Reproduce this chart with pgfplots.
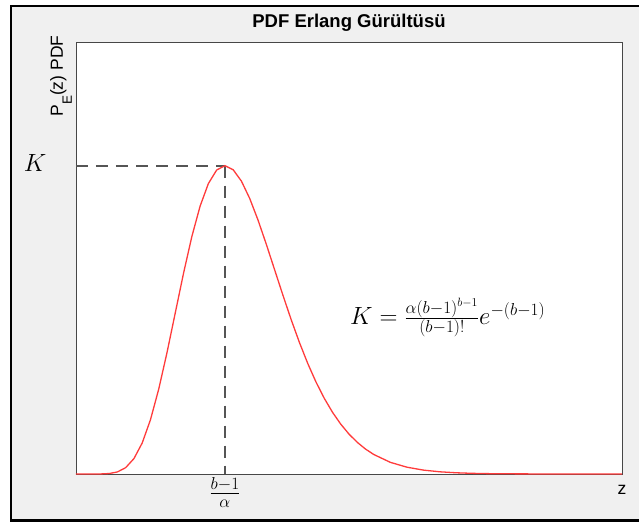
\documentclass[border=0pt]{standalone}
\usepackage{pgfplots}
\pgfplotsset{compat=1.18}
\usepackage{fontspec}
\setmainfont{Liberation Sans}
\definecolor{figbg}{HTML}{F0F0F0}
\definecolor{curvered}{HTML}{FF3B3B}
\definecolor{dashgray}{HTML}{555555}
\begin{document}
\begin{tikzpicture}[font=\fontsize{17.5}{20}\selectfont]
\path[use as bounding box] (-76pt,-48pt) rectangle (563pt,474pt);
\fill[white] (-76pt,-48pt) rectangle (563pt,474pt);
\fill[figbg] (-65pt,-46.5pt) rectangle (563pt,468pt);
\draw[black, line width=2.5pt] (563pt,468pt) -- (-65pt,468pt) -- (-65pt,-46.5pt) -- (563pt,-46.5pt);
\begin{axis}[
  at={(0pt,0pt)}, anchor=south west, scale only axis,
  width=546pt, height=432pt,
  xmin=0, xmax=33, ymin=0, ymax=1.401,
  axis background/.style={fill=white},
  axis line style={black!72, line width=0.9pt},
  xtick={9}, xticklabels={$\frac{b-1}{\alpha}$},
  ytick={1}, yticklabels={$K$},
  major tick length=0pt,
  xticklabel style={font=\fontsize{24}{28}\selectfont},
  yticklabel style={font=\fontsize{23}{28}\selectfont, xshift=-26pt, yshift=3pt},
  title={PDF Erlang Gürültüsü},
  title style={font=\fontsize{18.5}{22}\selectfont\bfseries, at={(rel axis cs:0.5,1)}, anchor=base, yshift=8.7pt},
  xlabel={z},
  xlabel style={at={(rel axis cs:1,0)}, anchor=north, yshift=-8pt},
  ylabel={P\raisebox{-9pt}{\fontsize{13.5}{14}\selectfont E}(z) PDF},
  ylabel style={at={(rel axis cs:0,0.921)}, anchor=south, inner sep=4pt},
  clip=false,
]
\addplot[dashgray, line width=1.8pt, dash pattern=on 12pt off 8pt] coordinates {(0,1) (9,1)};
\addplot[dashgray, line width=1.8pt, dash pattern=on 12pt off 8pt] coordinates {(9,1) (9,0)};
\addplot[curvered, line width=1.3pt] coordinates {
(0,0) (1,0.00001) (1.5,0.0002) (2,0.0015) (2.5,0.0066) (3,0.0205) (3.5,0.0498)
(4,0.1004) (4.5,0.1758) (5,0.2753) (5.5,0.3937) (6,0.5225) (6.5,0.6513)
(7,0.7697) (7.5,0.8686) (8,0.9418) (8.5,0.9857) (9,1) (9.5,0.9867)
(10,0.9496) (10.5,0.8935) (11,0.8237) (11.5,0.7454) (12,0.6631) (12.5,0.5808)
(13,0.5013) (13.5,0.4271) (14,0.3593) (14.5,0.2989) (15,0.2460) (15.5,0.2004)
(16,0.1618) (16.5,0.1294) (17,0.1027) (17.5,0.0808) (18,0.0632) (19,0.0378)
(20,0.0221) (21,0.0126) (22,0.0071) (23,0.0039) (24,0.0021) (25,0.0011)
(26,0.0006) (28,0.0002) (30,0) (33,0)};
\node[anchor=base west, inner sep=0pt, font=\fontsize{24}{28}\selectfont] at (axis cs:16.56,0.4855) {$K=\frac{\alpha(b-1)^{b-1}}{(b-1)!}e^{-(b-1)}$};
\end{axis}
\end{tikzpicture}
\end{document}
